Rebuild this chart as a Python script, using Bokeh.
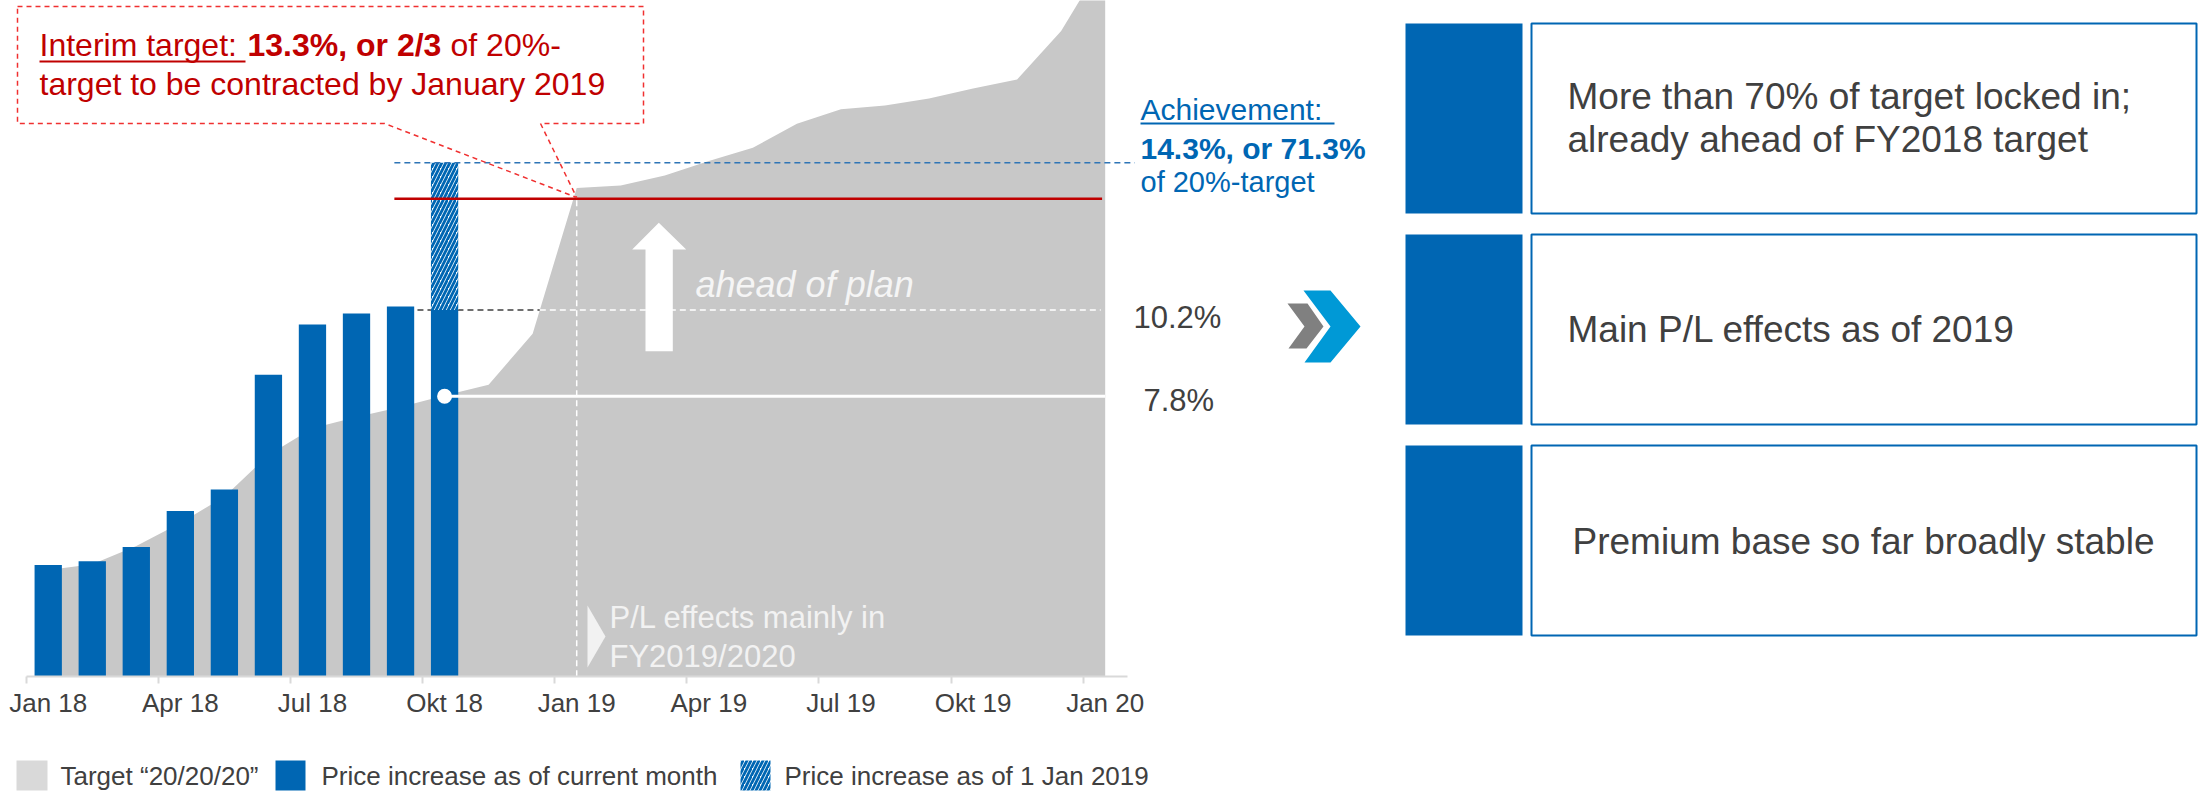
import numpy as np
from bokeh.plotting import figure
from bokeh.models import Range1d, LinearAxis, FixedTicker, Label
from bokeh.embed import file_html
from bokeh.resources import INLINE

# ---------------- data ----------------
months = ["Jan 18", "Feb 18", "Mar 18", "Apr 18", "May 18", "Jun 18", "Jul 18", "Aug 18",
          "Sep 18", "Okt 18", "Nov 18", "Dec 18", "Jan 19", "Feb 19", "Mar 19", "Apr 19",
          "May 19", "Jun 19", "Jul 19", "Aug 19", "Sep 19", "Okt 19", "Nov 19", "Dec 19", "Jan 20"]
target_202020 = [2.96, 3.12, 3.63, 4.27, 5.00, 6.16, 6.91, 7.22, 7.50, 7.82, 8.12, 9.54,
                 13.60, 13.67, 13.95, 14.35, 14.72, 15.39, 15.79, 15.90, 16.09, 16.37,
                 16.62, 17.97, 20.00]
price_increase_current = [3.1, 3.2, 3.6, 4.6, 5.2, 8.4, 9.8, 10.1, 10.3, 10.2]
price_increase_jan2019 = 14.3
interim_target = 13.3
pl_effect = 7.8
tick_months = [0, 3, 6, 9, 12, 15, 18, 21, 24]
tick_labels = ["Jan 18", "Apr 18", "Jul 18", "Okt 18", "Jan 19", "Apr 19", "Jul 19", "Okt 19", "Jan 20"]
legend_labels = ["Target \u201c20/20/20\u201d", "Price increase as of current month",
                 "Price increase as of 1 Jan 2019"]
box_texts = [["More than 70% of target locked in;", "already ahead of FY2018 target"],
             ["Main P/L effects as of 2019"],
             ["Premium base so far broadly stable"]]

# ---------------- styles ----------------
FONT = "Liberation Sans"
BLUE = "#0066B3"
RED = "#C00000"
GREY_AREA = "#C8C8C8"
DARK = "#404040"
HATCH = dict(hatch_pattern="/", hatch_color=BLUE, hatch_scale=8, hatch_weight=2.8)

W, H = 2204, 793
X0, MPX = 25.7, 44.04        # page x of Jan 18, px per month
Y0, VPX = 675.7, 35.9        # page y of 0 %, px per %
TEXT_DY = 0.37               # baseline correction (fraction of font size)

p = figure(width=W, height=H, output_backend="svg", toolbar_location=None,
           x_range=Range1d((0 - X0) / MPX, (W - X0) / MPX),
           y_range=Range1d((Y0 - H) / VPX, Y0 / VPX),
           x_axis_location=None, y_axis_location=None, min_border=0,
           outline_line_color=None, background_fill_color="white", border_fill_color="white")
p.xgrid.visible = False
p.ygrid.visible = False
p.extra_x_ranges = {"px": Range1d(0, W)}
p.extra_y_ranges = {"px": Range1d(H, 0)}
PX = dict(x_range_name="px", y_range_name="px")


def lab(x, y, text, size, color, style="normal", align="left"):
    p.add_layout(Label(x=x, y=y - TEXT_DY * size, text=text, text_font=FONT,
                       text_font_size=f"{size}px", text_color=color, text_font_style=style,
                       text_align=align, text_baseline="alphabetic", **PX))


# ---------------- chart ----------------
mx = np.arange(len(months)) + 0.5
p.varea(x=mx, y1=0, y2=target_202020, fill_color=GREY_AREA)

bx = np.arange(len(price_increase_current)) + 0.5
cross = float(np.interp(price_increase_current[-1], target_202020[10:13], mx[10:13]))

# dashed 10.2 % guide (dark over white, white over grey)
p.line([8.43, cross], [price_increase_current[-1]] * 2, line_color="#404040", line_width=1.5, line_dash="6 4")
p.line([cross, 24.4], [price_increase_current[-1]] * 2, line_color="white", line_width=1.5, line_dash="6 4")
# vertical dashed at Jan 19
p.line([12.5, 12.5], [0, interim_target], line_color="white", line_width=1.5, line_dash="6 4")

p.vbar(x=bx, top=price_increase_current, width=0.62, fill_color=BLUE, line_color=None)
p.vbar(x=[bx[-1]], bottom=[price_increase_current[-1]], top=[price_increase_jan2019], width=0.62,
       fill_color="white", line_color=None, **HATCH)

# 7.8 % line and dot
p.line([bx[-1], 24.5], [pl_effect, pl_effect], line_color="white", line_width=3)
p.scatter([bx[-1]], [pl_effect], size=15, fill_color="white", line_color=None)

# interim target (red) and achievement (blue dashed)
p.line([8.36, 24.43], [interim_target] * 2, line_color=RED, line_width=2.5)
p.line([8.36, 25.17], [price_increase_jan2019] * 2, line_color="#2E75B6", line_width=1.5, line_dash="6 4")

# axis: tick marks at month starts, labels centred in the month
tick_axis = LinearAxis(fixed_location=0, bounds=(0, 25), ticker=FixedTicker(ticks=tick_months),
                       axis_line_color="#D9D9D9", axis_line_width=2,
                       major_tick_line_color="#D9D9D9", major_tick_line_width=2,
                       major_tick_in=0, major_tick_out=7, minor_tick_line_color=None,
                       major_label_text_font_size="0px", major_label_text_alpha=0)
p.add_layout(tick_axis, "below")
label_pos = [t + 0.5 for t in tick_months]
label_axis = LinearAxis(fixed_location=0, ticker=FixedTicker(ticks=label_pos),
                        major_label_overrides={t: l for t, l in zip(label_pos, tick_labels)},
                        axis_line_color=None, major_tick_line_color=None, minor_tick_line_color=None,
                        major_tick_in=0, major_tick_out=0,
                        major_label_text_font=FONT, major_label_text_font_size="26px",
                        major_label_text_color=DARK, major_label_standoff=12)
p.add_layout(label_axis, "below")

# ---------------- annotations ----------------
# callout box
cx = [17, 643, 643, 540, 576.2, 384, 17, 17]
cy = [6, 6, 123, 123, 197, 123, 123, 6]
p.line(cx, cy, line_color="#F03030", line_width=1.5, line_dash="5 4", **PX)
lab(39, 56, "Interim target: ", 32, RED)
p.line([39, 245], [61, 61], line_color=RED, line_width=2, **PX)
lab(247, 56, "13.3%, or 2/3", 32, RED, style="bold")
lab(450, 56, "of 20%-", 32, RED)
lab(39, 95, "target to be contracted by January 2019", 32, RED)

# white arrow + text
p.patch([658.3, 685.7, 672.3, 672.3, 645, 645, 631.7], [222.3, 249, 249, 350.7, 350.7, 249, 249],
        fill_color="white", line_color=None, **PX)
lab(695, 297, "ahead of plan", 36, "#F5F5F5", style="italic")

# P/L note
p.patch([587, 605, 587], [605, 636, 667], fill_color="#F2F2F2", line_color=None, **PX)
lab(609, 628, "P/L effects mainly in", 31, "#F2F2F2")
lab(609, 667, "FY2019/2020", 31, "#F2F2F2")

# achievement
lab(1140, 120, "Achievement:", 30, BLUE)
p.line([1140, 1334], [123, 123], line_color=BLUE, line_width=2, **PX)
lab(1140, 159, "14.3%, or 71.3%", 30, BLUE, style="bold")
lab(1140, 192, "of 20%-target", 29, BLUE)

lab(1133, 328, "10.2%", 31, DARK)
lab(1143, 411, "7.8%", 31, DARK)

# chevrons
p.patch([1287, 1307, 1323, 1306, 1288, 1304], [303, 303, 326, 348, 348, 326],
        fill_color="#808080", line_color=None, **PX)
p.patch([1303, 1330, 1360, 1330, 1304, 1330], [290, 290, 326, 362, 362, 326],
        fill_color="#0099D6", line_color=None, **PX)

# right boxes
box_top = [23, 234, 445]
box_bot = [213, 424, 635]
p.quad(left=[1405] * 3, right=[1522] * 3, top=box_top, bottom=box_bot,
       fill_color=BLUE, line_color=None, **PX)
p.quad(left=[1531] * 3, right=[2196] * 3, top=box_top, bottom=box_bot,
       fill_color="white", line_color=BLUE, line_width=2, **PX)
lab(1567, 110, box_texts[0][0], 37, DARK)
lab(1567, 153, box_texts[0][1], 37, DARK)
lab(1567, 343, box_texts[1][0], 37, DARK)
lab(1863, 555, box_texts[2][0], 37, DARK, align="center")

# legend
p.quad(left=[16], right=[47], top=[760], bottom=[790], fill_color="#D9D9D9", line_color=None, **PX)
p.quad(left=[275], right=[305], top=[760], bottom=[790], fill_color=BLUE, line_color=None, **PX)
p.quad(left=[740], right=[770], top=[760], bottom=[790], fill_color="white", line_color=None, **PX, **HATCH)
lab(60, 785, legend_labels[0], 26, DARK)
lab(321, 785, legend_labels[1], 26, DARK)
lab(784, 785, legend_labels[2], 26, DARK)

open("out.html", "w").write(file_html(p, INLINE))
